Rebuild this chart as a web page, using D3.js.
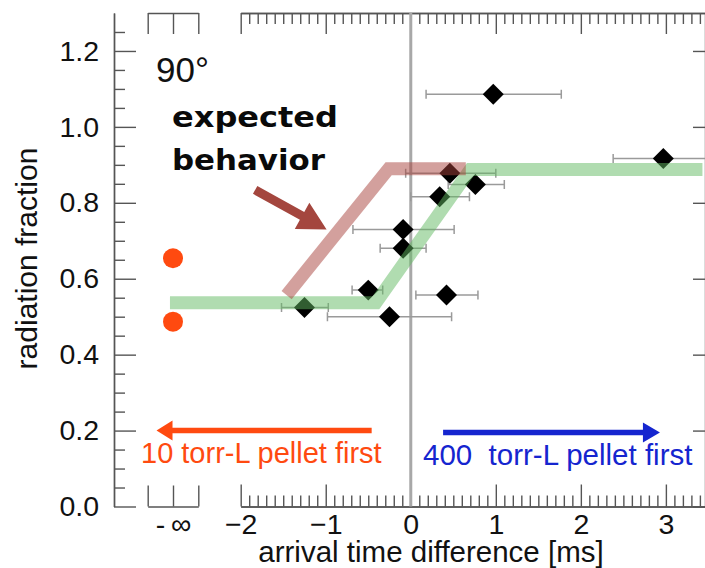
<!DOCTYPE html>
<html><head><meta charset="utf-8">
<script src="https://cdn.jsdelivr.net/npm/d3@7"></script>
<style>
html,body{margin:0;padding:0;background:#fff;}
svg{display:block;font-family:"Liberation Sans",Arial,Helvetica,sans-serif;}
</style></head><body>
<svg id="chart" width="705" height="568"></svg>
<script>
// Measured shots: arrival time difference [ms], radiation fraction, time uncertainty range
const timeDiff  = [0.97, 2.97, 0.46, 0.76, 0.34, -0.09, -0.09, -0.50, 0.42, -1.25, -0.25];
const radFrac   = [1.086, 0.917, 0.878, 0.848, 0.816, 0.730, 0.680, 0.570, 0.557, 0.524, 0.500];
const timeErrLo = [0.18, 2.38, -0.06, 0.44, 0.00, -0.68, -0.36, -0.69, 0.06, -1.52, -0.98];
const timeErrHi = [1.77, 3.60, 1.00, 1.10, 0.69, 0.51, 0.18, -0.33, 0.79, -0.97, 0.48];

// Shots with the 10 torr-L pellet alone (plotted in the -∞ column)
const soloFrac = [0.654, 0.487];

// Observed trend (starts in the -∞ column) and expected behavior
const measuredX = [-Infinity, -0.41, 0.70, 3.43];
const measuredY = [0.537, 0.537, 0.888, 0.888];
const expectedX = [-1.46, -0.26, 0.647];
const expectedY = [0.557, 0.890, 0.890];

// Axis ticks
const xTicks = [-2, -1, 0, 1, 2, 3];
const yTicks = [0.0, 0.2, 0.4, 0.6, 0.8, 1.0, 1.2];
const infTickLabel = "-\u2009\u221E";

// Annotation arrows [x, y] in data units
const earlyArrow = {from: [-0.46, 0.200], to: [-2.99, 0.200]};
const lateArrow  = {from: [0.38, 0.195], to: [2.93, 0.195]};
const noteArrow  = {from: [-1.83, 0.834], to: [-0.99, 0.730]};

const plotLeft = 114, plotTop = 13, plotBottom = 506.5, plotRight = 705;

const svg = d3.select("#chart");

const x = d3.scaleLinear().domain([-2, 3.46]).range([240.7, plotRight]);
const xInf = d3.scaleLinear().domain([-1, 1]).range([147.7, 198.3]);
const y = d3.scaleLinear().domain([0, 1.3]).range([plotBottom, plotTop]);
const xPos = v => v === -Infinity ? xInf(-0.12) : x(v);

const axisColor = "#555";
const fs = 28.5;

function styleAxis(g) {
  g.selectAll("path,line").attr("stroke", axisColor).attr("stroke-width", 1.4);
  g.selectAll("text").attr("fill", "#111").style("font-size", fs + "px")
   .style("font-family", '"Liberation Sans",Arial,Helvetica,sans-serif');
}

const minorX = d3.range(-20, 35).map(i => i / 10).filter(v => !xTicks.includes(v));
const minorY = d3.range(1, 26).map(i => +(i * 0.05).toFixed(2)).filter(v => Math.abs(v * 5 - Math.round(v * 5)) > 1e-6);

// bottom axis
svg.append("g").attr("transform", `translate(0,${plotBottom})`)
  .call(d3.axisBottom(x).tickValues(minorX).tickSize(-11).tickSizeOuter(0).tickFormat(""))
  .call(styleAxis);
svg.append("g").attr("transform", `translate(0,${plotBottom})`)
  .call(d3.axisBottom(x).tickValues(xTicks).tickSize(-22).tickSizeOuter(0).tickPadding(7).tickFormat(d3.format("d")))
  .call(styleAxis);
// top axis
svg.append("g").attr("transform", `translate(0,${plotTop})`)
  .call(d3.axisTop(x).tickValues(minorX).tickSize(-11).tickSizeOuter(0).tickFormat(""))
  .call(styleAxis);
svg.append("g").attr("transform", `translate(0,${plotTop})`)
  .call(d3.axisTop(x).tickValues(xTicks).tickSize(-21).tickSizeOuter(0).tickFormat(""))
  .call(styleAxis);
// -∞ column brackets
svg.append("g").attr("transform", `translate(0,${plotBottom})`)
  .call(d3.axisBottom(xInf).tickValues([-1, 0, 1]).tickSize(-21).tickSizeOuter(0).tickPadding(7)
    .tickFormat(d => d === 0 ? infTickLabel : ""))
  .call(styleAxis);
svg.append("g").attr("transform", `translate(0,${plotTop})`)
  .call(d3.axisTop(xInf).tickValues([-1, 0, 1]).tickSize(-21).tickSizeOuter(0).tickFormat(""))
  .call(styleAxis);
// left axis
svg.append("g").attr("transform", `translate(${plotLeft},0)`)
  .call(d3.axisLeft(y).tickValues(minorY).tickSize(-11).tickSizeOuter(0).tickFormat(""))
  .call(styleAxis);
svg.append("g").attr("transform", `translate(${plotLeft},0)`)
  .call(d3.axisLeft(y).tickValues(yTicks).tickSize(-22).tickSizeOuter(0).tickPadding(15).tickFormat(d3.format(".1f")))
  .call(styleAxis);
// right axis
svg.append("g").attr("transform", `translate(${plotRight},0)`)
  .call(d3.axisRight(y).tickValues(yTicks).tickSize(-12).tickSizeOuter(0).tickFormat(""))
  .call(styleAxis);

// axis titles
svg.append("text").attr("x", 431).attr("y", 561.5).attr("text-anchor", "middle")
  .style("font-size", "29.5px").attr("fill", "#111").text("arrival time difference [ms]");
svg.append("text").attr("transform", "translate(37,258.5) rotate(-90)").attr("text-anchor", "middle")
  .style("font-size", "30px").attr("fill", "#111").text("radiation fraction");

// zero line
svg.append("line").attr("x1", x(0)).attr("x2", x(0)).attr("y1", plotTop).attr("y2", plotBottom)
  .attr("stroke", "#a8a8a8").attr("stroke-width", 3);

svg.append("defs").append("clipPath").attr("id", "plotclip")
  .append("rect").attr("x", plotLeft).attr("y", plotTop)
  .attr("width", plotRight - plotLeft).attr("height", plotBottom - plotTop);

const pts = timeDiff.map((t, i) => ({t, f: radFrac[i], lo: timeErrLo[i], hi: timeErrHi[i]}));

// error bars
const eb = svg.append("g").attr("clip-path", "url(#plotclip)")
  .attr("stroke", "#9a9a9a").attr("stroke-width", 1.5).attr("fill", "none");
pts.forEach(p => {
  eb.append("line").attr("x1", x(p.lo)).attr("x2", x(p.hi)).attr("y1", y(p.f)).attr("y2", y(p.f));
  [p.lo, p.hi].forEach(v => eb.append("line").attr("x1", x(v)).attr("x2", x(v))
    .attr("y1", y(p.f) - 4.5).attr("y2", y(p.f) + 4.5));
});

// diamonds
const diamond = d3.symbol().type(d3.symbolSquare).size(220);
svg.append("g").selectAll("path").data(pts).join("path")
  .attr("d", diamond)
  .attr("transform", p => `translate(${x(p.t)},${y(p.f)}) rotate(45)`)
  .attr("fill", "#000");

// -∞ column points
svg.append("g").selectAll("circle").data(soloFrac).join("circle")
  .attr("cx", xInf(0)).attr("cy", d => y(d)).attr("r", 10).attr("fill", "#ff4a10");

// trend bands
const line = d3.line().x(d => d[0]).y(d => d[1]);
svg.append("path")
  .attr("d", line(measuredX.map((v, i) => [xPos(v), y(measuredY[i])])))
  .attr("fill", "none").attr("stroke", "rgb(98,186,98)").attr("stroke-opacity", 0.5)
  .attr("stroke-width", 13).attr("stroke-linejoin", "miter");
svg.append("path")
  .attr("d", line(expectedX.map((v, i) => [x(v), y(expectedY[i])])))
  .attr("fill", "none").attr("stroke", "rgb(168,66,60)").attr("stroke-opacity", 0.5)
  .attr("stroke-width", 13).attr("stroke-linejoin", "miter");

// arrows
function arrowPath(a, shaft, headW, headL) {
  const x1 = x(a.from[0]), y1 = y(a.from[1]), x2 = x(a.to[0]), y2 = y(a.to[1]);
  const dx = x2 - x1, dy = y2 - y1, len = Math.hypot(dx, dy);
  const ux = dx / len, uy = dy / len, nx = -uy, ny = ux;
  const bx = x2 - ux * headL, by = y2 - uy * headL;
  const P = (px, py) => `${px.toFixed(2)},${py.toFixed(2)}`;
  return "M" + [
    P(x1 + nx * shaft / 2, y1 + ny * shaft / 2),
    P(bx + nx * shaft / 2, by + ny * shaft / 2),
    P(bx + nx * headW / 2, by + ny * headW / 2),
    P(x2, y2),
    P(bx - nx * headW / 2, by - ny * headW / 2),
    P(bx - nx * shaft / 2, by - ny * shaft / 2),
    P(x1 - nx * shaft / 2, y1 - ny * shaft / 2)
  ].join("L") + "Z";
}
svg.append("path").attr("d", arrowPath(earlyArrow, 5.5, 20, 16)).attr("fill", "#ff4a10");
svg.append("path").attr("d", arrowPath(lateArrow, 5.5, 20, 17)).attr("fill", "#1525cf");
svg.append("path").attr("d", arrowPath(noteArrow, 9, 30, 28)).attr("fill", "#a4463e");

// labels
svg.append("text").attr("x", 141).attr("y", 463).style("font-size", "29px")
  .attr("fill", "#ff4a10").text("10 torr-L pellet first");
svg.append("text").attr("x", 423).attr("y", 465).style("font-size", "29.5px")
  .attr("fill", "#1525cf").style("white-space", "pre").text("400  torr-L pellet first");
svg.append("text").attr("x", 156).attr("y", 82).style("font-size", "35px")
  .attr("fill", "#111").text("90°");
const note = svg.append("g").style("font-family", '"DejaVu Sans",sans-serif').style("font-weight", "bold")
  .style("font-size", "28px").attr("fill", "#0a0a0a");
note.append("text").attr("x", 172).attr("y", 127).attr("textLength", 166).attr("lengthAdjust", "spacingAndGlyphs").text("expected");
note.append("text").attr("x", 172).attr("y", 170).attr("textLength", 153).attr("lengthAdjust", "spacingAndGlyphs").text("behavior");
</script>
</body></html>
